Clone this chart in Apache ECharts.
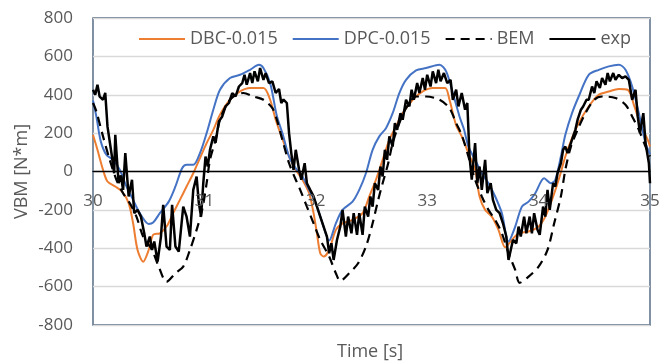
<!DOCTYPE html>
<html>
<head>
<meta charset="utf-8">
<script src="https://cdn.jsdelivr.net/npm/echarts@6/dist/echarts.min.js"></script>
<style>
  html, body { margin: 0; padding: 0; background: #fff; }
  #chart { width: 665px; height: 363px; }
</style>
</head>
<body>
<div id="chart"></div>
<script>
// [time s, VBM N*m]
var dbc = [[30.00,191],[30.04,113],[30.09,9],[30.13,-52],[30.20,-78],[30.26,-104],[30.32,-165],[30.36,-270],[30.40,-409],[30.45,-470],[30.50,-409],[30.54,-330],[30.60,-322],[30.66,-287],[30.72,-217],[30.78,-148],[30.84,-78],[30.90,-9],[30.96,70],[31.02,148],[31.08,217],[31.14,296],[31.23,374],[31.32,417],[31.41,435],[31.53,435],[31.59,374],[31.64,270],[31.70,170],[31.76,78],[31.82,9],[31.88,-43],[31.94,-113],[31.98,-217],[32.01,-322],[32.04,-426],[32.07,-443],[32.12,-409],[32.18,-304],[32.24,-270],[32.33,-252],[32.42,-217],[32.48,-130],[32.54,-43],[32.60,61],[32.66,165],[32.72,235],[32.78,304],[32.87,374],[32.96,417],[33.05,435],[33.16,435],[33.20,374],[33.26,240],[33.31,183],[33.37,96],[33.43,9],[33.47,-130],[33.52,-200],[33.58,-235],[33.64,-304],[33.70,-395],[33.76,-357],[33.82,-322],[33.91,-313],[34.00,-287],[34.06,-235],[34.12,-148],[34.18,-43],[34.24,78],[34.30,174],[34.36,252],[34.45,339],[34.54,400],[34.63,417],[34.72,430],[34.80,426],[34.86,339],[34.92,235],[34.98,165],[35.00,130]];

var dpc = [[30.00,370],[30.03,287],[30.07,157],[30.12,87],[30.18,61],[30.24,9],[30.30,-78],[30.36,-148],[30.42,-217],[30.50,-273],[30.54,-266],[30.60,-217],[30.68,-157],[30.74,-78],[30.80,17],[30.84,35],[30.90,35],[30.96,96],[31.02,200],[31.08,322],[31.14,426],[31.23,487],[31.32,504],[31.41,530],[31.49,556],[31.53,539],[31.59,461],[31.65,290],[31.70,200],[31.76,78],[31.82,17],[31.88,-26],[31.94,-96],[32.00,-165],[32.06,-270],[32.12,-360],[32.18,-270],[32.24,-200],[32.33,-157],[32.39,-96],[32.45,-9],[32.51,113],[32.57,183],[32.63,226],[32.69,304],[32.75,409],[32.81,478],[32.90,527],[32.99,539],[33.11,556],[33.17,522],[33.23,409],[33.29,287],[33.33,220],[33.37,130],[33.43,61],[33.49,-9],[33.55,-61],[33.61,-130],[33.67,-217],[33.73,-365],[33.79,-287],[33.85,-183],[33.91,-157],[33.97,-113],[34.05,-35],[34.11,-61],[34.15,-43],[34.20,78],[34.24,191],[34.30,304],[34.36,391],[34.45,504],[34.54,530],[34.63,548],[34.72,556],[34.78,530],[34.84,443],[34.90,304],[34.96,148],[35.00,90]];

var bem = [[30.00,357],[30.03,313],[30.09,183],[30.15,61],[30.21,-43],[30.27,-113],[30.33,-165],[30.39,-235],[30.45,-339],[30.53,-409],[30.59,-496],[30.66,-575],[30.74,-530],[30.81,-496],[30.87,-409],[30.93,-304],[30.98,-200],[31.02,-61],[31.05,61],[31.10,165],[31.14,270],[31.20,348],[31.26,391],[31.35,409],[31.44,391],[31.53,374],[31.61,330],[31.65,270],[31.70,165],[31.76,43],[31.82,-43],[31.86,-96],[31.92,-183],[31.98,-270],[32.04,-357],[32.12,-443],[32.18,-530],[32.22,-570],[32.30,-530],[32.38,-478],[32.45,-391],[32.51,-270],[32.56,-148],[32.60,-61],[32.65,43],[32.69,148],[32.75,252],[32.81,330],[32.90,391],[32.99,391],[33.11,374],[33.20,330],[33.26,252],[33.31,190],[33.37,78],[33.43,-43],[33.49,-130],[33.55,-200],[33.61,-252],[33.67,-322],[33.73,-426],[33.79,-513],[33.83,-580],[33.91,-548],[34.00,-496],[34.08,-409],[34.14,-270],[34.20,-130],[34.24,9],[34.29,130],[34.35,217],[34.42,304],[34.50,374],[34.57,391],[34.69,383],[34.78,348],[34.84,287],[34.90,217],[34.96,130],[35.00,78]];

var exp = [[30.00,426],[30.02,400],[30.04,452],[30.06,390],[30.09,374],[30.11,410],[30.13,235],[30.17,78],[30.19,-9],[30.20,191],[30.23,-61],[30.25,-20],[30.27,-96],[30.29,96],[30.32,-130],[30.35,-43],[30.37,-217],[30.40,-200],[30.43,-235],[30.46,-322],[30.48,-391],[30.51,-339],[30.53,-409],[30.55,-365],[30.58,-470],[30.61,-339],[30.63,-174],[30.66,-391],[30.69,-409],[30.71,-174],[30.74,-391],[30.77,-417],[30.81,-183],[30.84,-235],[30.87,-339],[30.90,-96],[30.93,-26],[30.95,-165],[30.97,-235],[30.99,-61],[31.01,78],[31.03,26],[31.05,113],[31.08,183],[31.10,150],[31.13,261],[31.16,287],[31.19,339],[31.22,357],[31.25,409],[31.28,391],[31.31,443],[31.34,461],[31.36,504],[31.38,452],[31.41,513],[31.43,461],[31.45,522],[31.48,470],[31.50,539],[31.53,478],[31.55,513],[31.58,461],[31.61,470],[31.64,409],[31.67,430],[31.69,357],[31.71,375],[31.74,357],[31.76,200],[31.78,96],[31.80,9],[31.82,113],[31.85,9],[31.87,-43],[31.90,43],[31.92,-61],[31.95,-96],[31.98,-130],[32.01,-183],[32.04,-235],[32.07,-287],[32.10,-339],[32.12,-426],[32.14,-374],[32.16,-461],[32.19,-357],[32.22,-287],[32.24,-200],[32.27,-339],[32.29,-235],[32.32,-322],[32.34,-217],[32.37,-330],[32.39,-217],[32.42,-330],[32.44,-183],[32.47,-235],[32.49,-130],[32.51,-183],[32.53,-61],[32.56,-96],[32.58,26],[32.60,-26],[32.62,113],[32.64,61],[32.66,183],[32.69,130],[32.71,252],[32.73,217],[32.76,304],[32.78,270],[32.81,374],[32.84,339],[32.86,426],[32.88,374],[32.91,461],[32.93,409],[32.96,487],[32.98,426],[33.00,504],[33.03,443],[33.05,522],[33.08,461],[33.10,530],[33.12,470],[33.15,513],[33.18,461],[33.21,478],[33.23,374],[33.26,426],[33.28,339],[33.31,409],[33.34,322],[33.36,357],[33.38,78],[33.40,-43],[33.43,148],[33.45,-61],[33.47,26],[33.49,-96],[33.52,61],[33.54,-113],[33.57,-61],[33.59,-148],[33.62,-200],[33.65,-217],[33.68,-270],[33.71,-339],[33.73,-461],[33.75,-409],[33.77,-357],[33.80,-374],[33.82,-287],[33.84,-339],[33.87,-235],[33.89,-322],[33.92,-235],[33.94,-322],[33.96,-217],[33.99,-304],[34.01,-330],[34.04,-183],[34.06,-235],[34.08,-96],[34.10,-200],[34.13,-61],[34.15,-78],[34.17,-9],[34.20,43],[34.22,113],[34.24,130],[34.26,96],[34.29,148],[34.31,183],[34.33,217],[34.35,270],[34.38,322],[34.40,339],[34.43,374],[34.45,374],[34.48,443],[34.50,409],[34.52,470],[34.55,435],[34.57,487],[34.60,452],[34.62,513],[34.64,470],[34.67,513],[34.69,478],[34.72,504],[34.75,487],[34.78,496],[34.81,478],[34.84,374],[34.87,426],[34.89,287],[34.91,200],[34.94,304],[34.96,148],[34.99,43],[35.00,-61]];

var seriesNames = ['DBC-0.015', 'DPC-0.015', 'BEM', 'exp'];
var xTicks = { min: 30, max: 35, step: 1 };
var yTicks = { min: -800, max: 800, step: 200 };

var myChart = echarts.init(document.getElementById('chart'));
var font = '"Open Sans", "Noto Sans", sans-serif';

var gridTop = 18, gridBottom = 38;
var plotH = 363 - gridTop - gridBottom;
// lift the x axis (line + labels) up to the y = 0 level
var zeroLift = plotH * (0 - yTicks.min) / (yTicks.max - yTicks.min);

var option = {
    animation: false,
    backgroundColor: '#ffffff',
    textStyle: { fontFamily: font },
    title: {
        text: 'Time [s]',
        left: 332,
        top: 338,
        textStyle: { fontSize: 18, fontWeight: 'normal', color: '#595959', fontFamily: font }
    },
    grid: {
        left: 93, right: 15, top: gridTop, bottom: gridBottom,
        outerBoundsMode: 'none',
        show: true,
        borderColor: '#3d5674',
        borderWidth: 1.3,
        backgroundColor: 'transparent'
    },
    legend: {
        data: seriesNames,
        left: 133,
        top: 25,
        itemWidth: 46,
        itemHeight: 14,
        itemGap: 14,
        itemStyle: { opacity: 0 },
        textStyle: { fontSize: 18, color: '#595959', fontFamily: font }
    },
    xAxis: {
        type: 'value',
        min: xTicks.min,
        max: xTicks.max,
        interval: xTicks.step,
        offset: -zeroLift,
        z: 5,
        axisLine: { onZero: false, lineStyle: { color: '#000', width: 1.3 } },
        axisTick: { show: false },
        splitLine: { show: false },
        axisLabel: { color: '#595959', fontSize: 17, margin: 21 }
    },
    yAxis: {
        type: 'value',
        min: yTicks.min,
        max: yTicks.max,
        interval: yTicks.step,
        name: 'VBM [N*m]',
        nameLocation: 'middle',
        nameGap: 62,
        nameMoveOverlap: false,
        nameTextStyle: { fontSize: 18, color: '#595959' },
        axisLine: { show: false },
        axisTick: { show: false },
        splitLine: { lineStyle: { color: '#d9d9d9', width: 1.3 } },
        axisLabel: { color: '#595959', fontSize: 17, margin: 20 }
    },
    series: [
        {
            name: seriesNames[0], type: 'line', data: dbc, smooth: 0.3,
            showSymbol: false, symbol: 'none',
            itemStyle: { color: '#ed7d31' },
            lineStyle: { color: '#ed7d31', width: 2 }
        },
        {
            name: seriesNames[1], type: 'line', data: dpc, smooth: 0.3,
            showSymbol: false, symbol: 'none',
            itemStyle: { color: '#4472c4' },
            lineStyle: { color: '#4472c4', width: 2 }
        },
        {
            name: seriesNames[2], type: 'line', data: bem, smooth: 0.3,
            showSymbol: false, symbol: 'none',
            itemStyle: { color: '#000' },
            lineStyle: { color: '#000', width: 2.2, type: [9, 6] }
        },
        {
            name: seriesNames[3], type: 'line', data: exp,
            showSymbol: false, symbol: 'none',
            itemStyle: { color: '#000' },
            lineStyle: { color: '#000', width: 2.5 }
        }
    ]
};

myChart.setOption(option, true);
</script>
</body>
</html>
